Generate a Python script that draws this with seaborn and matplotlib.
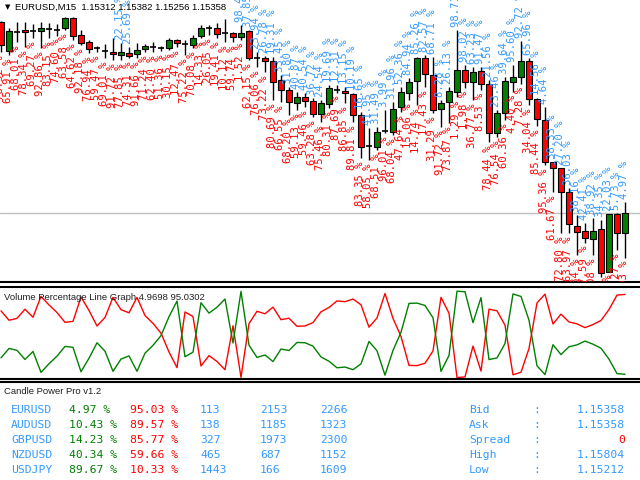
import numpy as np
import pandas as pd
import seaborn as sns
import matplotlib.pyplot as plt

# EURUSD M15 candles
opens = [1.15793, 1.15727, 1.15771, 1.15775, 1.15773, 1.15773, 1.15778, 1.15775, 1.15780, 1.15802,
         1.15764, 1.15748, 1.15734, 1.15727, 1.15725, 1.15718, 1.15723, 1.15721, 1.15732, 1.15736,
         1.15734, 1.15734, 1.15752, 1.15743, 1.15741, 1.15762, 1.15780, 1.15780, 1.15768, 1.15768,
         1.15759, 1.15773, 1.15711, 1.15711, 1.15705, 1.15661, 1.15638, 1.15609, 1.15622, 1.15613,
         1.15584, 1.15607, 1.15638, 1.15636, 1.15629, 1.15581, 1.15511, 1.15508, 1.15545, 1.15543,
         1.15600, 1.15632, 1.15659, 1.15711, 1.15673, 1.15595, 1.15611, 1.15634, 1.15684, 1.15657,
         1.15682, 1.15652, 1.15540, 1.15586, 1.15657, 1.15668, 1.15705, 1.15618, 1.15570, 1.15474,
         1.15461, 1.15406, 1.15328, 1.15317, 1.15299, 1.15322, 1.15224, 1.15356, 1.15312]
highs = [1.15796, 1.15780, 1.15793, 1.15793, 1.15789, 1.15793, 1.15791, 1.15789, 1.15804, 1.15804,
         1.15775, 1.15752, 1.15739, 1.15743, 1.15757, 1.15746, 1.15736, 1.15746, 1.15743, 1.15748,
         1.15739, 1.15757, 1.15755, 1.15752, 1.15764, 1.15787, 1.15787, 1.15791, 1.15800, 1.15771,
         1.15787, 1.15775, 1.15725, 1.15716, 1.15714, 1.15673, 1.15645, 1.15634, 1.15632, 1.15620,
         1.15616, 1.15650, 1.15650, 1.15645, 1.15632, 1.15588, 1.15552, 1.15554, 1.15593, 1.15611,
         1.15645, 1.15666, 1.15714, 1.15718, 1.15714, 1.15616, 1.15645, 1.15775, 1.15695, 1.15691,
         1.15691, 1.15661, 1.15593, 1.15668, 1.15695, 1.15750, 1.15711, 1.15620, 1.15600, 1.15474,
         1.15461, 1.15415, 1.15353, 1.15335, 1.15347, 1.15342, 1.15356, 1.15358, 1.15382]
lows = [1.15725, 1.15718, 1.15748, 1.15736, 1.15757, 1.15734, 1.15757, 1.15762, 1.15775, 1.15752,
        1.15741, 1.15723, 1.15725, 1.15711, 1.15707, 1.15707, 1.15711, 1.15711, 1.15725, 1.15725,
        1.15727, 1.15730, 1.15736, 1.15718, 1.15734, 1.15757, 1.15764, 1.15757, 1.15748, 1.15748,
        1.15752, 1.15707, 1.15691, 1.15679, 1.15616, 1.15611, 1.15581, 1.15593, 1.15600, 1.15577,
        1.15565, 1.15597, 1.15632, 1.15609, 1.15565, 1.15483, 1.15479, 1.15502, 1.15540, 1.15536,
        1.15588, 1.15616, 1.15604, 1.15645, 1.15586, 1.15554, 1.15563, 1.15622, 1.15643, 1.15616,
        1.15638, 1.15520, 1.15531, 1.15570, 1.15634, 1.15652, 1.15604, 1.15556, 1.15467, 1.15406,
        1.15312, 1.15312, 1.15262, 1.15290, 1.15262, 1.15212, 1.15224, 1.15274, 1.15256]
closes = [1.15741, 1.15773, 1.15770, 1.15771, 1.15772, 1.15780, 1.15777, 1.15774, 1.15802, 1.15762,
          1.15746, 1.15732, 1.15733, 1.15726, 1.15721, 1.15725, 1.15716, 1.15730, 1.15739, 1.15735,
          1.15733, 1.15752, 1.15746, 1.15742, 1.15757, 1.15780, 1.15779, 1.15766, 1.15767, 1.15759,
          1.15768, 1.15711, 1.15710, 1.15705, 1.15657, 1.15638, 1.15611, 1.15622, 1.15613, 1.15584,
          1.15609, 1.15643, 1.15637, 1.15632, 1.15581, 1.15508, 1.15510, 1.15543, 1.15544, 1.15595,
          1.15634, 1.15657, 1.15711, 1.15675, 1.15593, 1.15609, 1.15636, 1.15684, 1.15657, 1.15679,
          1.15652, 1.15540, 1.15586, 1.15659, 1.15668, 1.15705, 1.15618, 1.15572, 1.15474, 1.15461,
          1.15406, 1.15333, 1.15315, 1.15301, 1.15317, 1.15221, 1.15356, 1.15312, 1.15358]

# sell volume percentage per candle (buy = 100 - sell)
sell_pct = [76.52, 65.91, 68.01, 78.34, 69.27, 92.86, 83.15, 74.60, 63.58, 64.62,
            92.18, 76.94, 59.47, 69.01, 91.72, 77.85, 74.31, 91.66, 71.24, 62.40,
            51.36, 30.15, 12.47, 75.22, 70.08, 14.33, 26.05, 19.41, 10.12, 59.74,
            1.52, 62.15, 76.06, 73.22, 80.69, 66.55, 68.20, 59.13, 59.46, 63.28,
            75.46, 80.31, 87.69, 86.85, 89.81, 83.35, 58.05, 68.51, 96.01, 68.04,
            47.64, 15.06, 14.74, 17.43, 31.29, 91.72, 73.87, 1.29, 1.98, 36.77,
            8.53, 78.44, 76.54, 60.36, 4.40, 7.28, 34.04, 85.44, 95.36, 61.67,
            72.80, 63.97, 61.84, 57.59, 61.08, 65.65, 77.97, 94.27, 95.0302]
blue_shown = [15, 16] + list(range(30, 79))

# Candle Power Pro table
symbols = ['EURUSD', 'AUDUSD', 'GBPUSD', 'NZDUSD', 'USDJPY']
buy_share = ['4.97', '10.43', '14.23', '40.34', '89.67']
sell_share = ['95.03', '89.57', '85.77', '59.66', '10.33']
buy_vol = [113, 138, 327, 465, 1443]
sell_vol = [2153, 1185, 1973, 687, 166]
total_vol = [2266, 1323, 2300, 1152, 1609]
info_names = ['Bid', 'Ask', 'Spread', 'High', 'Low']
info_values = ['1.15358', '1.15358', '0', '1.15804', '1.15212']

RED = '#ff0000'
GREEN = '#008000'
BLUE = '#3399ff'

df = pd.DataFrame({'open': opens, 'high': highs, 'low': lows, 'close': closes, 'sell': sell_pct})
df['buy'] = 100 - df['sell']
df['i'] = np.arange(len(df))

sns.set_style('white')
plt.rcParams['font.family'] = ['Liberation Sans', 'DejaVu Sans']

W, H = 640, 480
fig = plt.figure(figsize=(6.4, 4.8), dpi=100)


def box(top, bottom):
    return [0, 1 - bottom / H, 1, (bottom - top) / H]


ax = fig.add_axes(box(0, 282))
ax2 = fig.add_axes(box(287, 379))
ax3 = fig.add_axes(box(382, 480))

xlim = (-0.125, 79.875)

# --- main price chart ---
ax.set_xlim(*xlim)
ax.set_ylim(1.152006, 1.158436)
ax.axhline(closes[-1], color='#c0c0c0', lw=1, zorder=0)
ax.vlines(df['i'], df['low'], df['high'], color='black', lw=1, zorder=2)
for _, r in df.iterrows():
    body = r['close'] - r['open']
    if abs(body) < 0.000015:
        ax.hlines(r['open'], r['i'] - 0.42, r['i'] + 0.42, color='black', lw=1.2, zorder=3)
        continue
    col = GREEN if body > 0 else RED
    ax.bar(r['i'], abs(body), bottom=min(r['open'], r['close']), width=0.7,
           color=col, edgecolor='black', lw=0.8, zorder=3)

gap = 0.00007
for _, r in df.iterrows():
    ax.text(r['i'] - 0.1, r['low'] - gap, f"{r['sell']:.2f} %", rotation=90,
            ha='center', va='top', color=RED, fontsize=7.6,
            family='DejaVu Sans Mono', clip_on=True, zorder=4)
    if int(r['i']) in blue_shown:
        ax.text(r['i'] - 0.1, r['high'] + gap, f"{r['buy']:.2f} %", rotation=90,
                ha='center', va='bottom', color=BLUE, fontsize=7.6,
                family='DejaVu Sans Mono', clip_on=True, zorder=4)

ax.set_xticks([])
ax.set_yticks([])
for s in ['top', 'left', 'right']:
    ax.spines[s].set_visible(False)
ax.spines['bottom'].set_color('black')
ax.spines['bottom'].set_linewidth(1.5)

fig.text(5 / W, 1 - 7 / H, '\u25bc', fontsize=5, va='center', ha='left',
         family='DejaVu Sans', color='black')
fig.text(15 / W, 1 - 7 / H,
         f'EURUSD,M15  {opens[-1]:.5f} {highs[-1]:.5f} {lows[-1]:.5f} {closes[-1]:.5f}',
         fontsize=6.8, va='center', ha='left', color='black')

# --- volume percentage line graph ---
sns.lineplot(x=df['i'], y=df['sell'], ax=ax2, color=RED, lw=1, legend=False)
sns.lineplot(x=df['i'], y=df['buy'], ax=ax2, color=GREEN, lw=1, legend=False)
ax2.set_xlim(*xlim)
ax2.set_ylim(-0.34, 103.4)
ax2.set_xticks([])
ax2.set_yticks([])
ax2.set_xlabel('')
ax2.set_ylabel('')
for s in ['left', 'right']:
    ax2.spines[s].set_visible(False)
for s in ['top', 'bottom']:
    ax2.spines[s].set_color('black')
    ax2.spines[s].set_linewidth(1.5)
ax2.text(4 / W, 1 - 10 / 92,
         f"Volume Percentage Line Graph {df['buy'].iloc[-1]:.4f} {df['sell'].iloc[-1]:.4f}",
         transform=ax2.transAxes, fontsize=6.8, va='center', ha='left', color='#202020')

# --- Candle Power Pro panel ---
ax3.set_xticks([])
ax3.set_yticks([])
for s in ['left', 'right', 'bottom']:
    ax3.spines[s].set_visible(False)
ax3.spines['top'].set_color('black')
ax3.spines['top'].set_linewidth(1.5)

fig.text(4 / W, 1 - 391 / H, 'Candle Power Pro v1.2', fontsize=6.8,
         va='center', ha='left', color='#202020')

mono = dict(family='DejaVu Sans Mono', fontsize=8.2, va='center')
row_y = [410, 425, 440, 455, 470]
for k, y in enumerate(row_y):
    fy = 1 - y / H
    fig.text(11 / W, fy, symbols[k], color=BLUE, ha='left', **mono)
    fig.text(69 / W, fy, f'{buy_share[k]} %', color=GREEN, ha='left', **mono)
    fig.text(130 / W, fy, f'{sell_share[k]} %', color=RED, ha='left', **mono)
    fig.text(200 / W, fy, str(buy_vol[k]), color=BLUE, ha='left', **mono)
    fig.text(260 / W, fy, str(sell_vol[k]), color=BLUE, ha='left', **mono)
    fig.text(320 / W, fy, str(total_vol[k]), color=BLUE, ha='left', **mono)
    fig.text(469 / W, fy, info_names[k], color=BLUE, ha='left', **mono)
    fig.text(533 / W, fy, ':', color=BLUE, ha='left', **mono)
    vcol = RED if info_names[k] == 'Spread' else BLUE
    fig.text(625 / W, fy, info_values[k], color=vcol, ha='right', **mono)

fig.savefig('out.png', dpi=100)
